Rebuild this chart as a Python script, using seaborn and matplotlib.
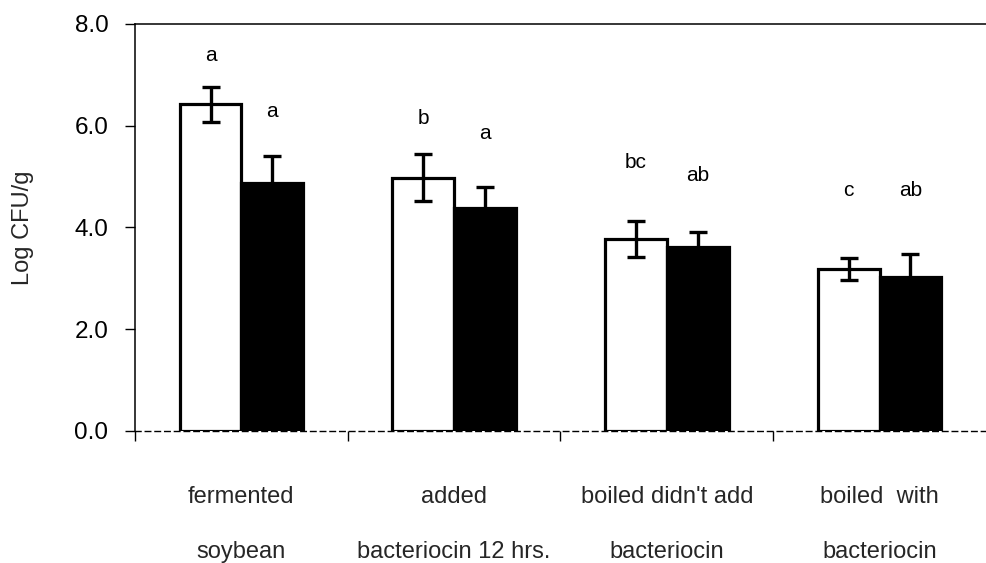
import matplotlib
matplotlib.use("Agg")
import matplotlib.pyplot as plt
import matplotlib.transforms as mtransforms
import numpy as np
import pandas as pd
import seaborn as sns

# Treatment groups (two lines of label text each)
groups = [
    "fermented\nsoybean",
    "added\nbacteriocin 12 hrs.",
    "boiled didn't add\nbacteriocin",
    "boiled  with\nbacteriocin",
]
samples = ["sample A", "sample B"]

# Mean log counts and standard errors
mean_a = [6.42, 4.98, 3.77, 3.18]
se_a = [0.34, 0.46, 0.35, 0.22]
mean_b = [4.88, 4.39, 3.61, 3.02]
se_b = [0.52, 0.41, 0.31, 0.46]

# Significance letters and the heights they are written at
letters_a = ["a", "b", "bc", "c"]
letters_b = ["a", "a", "ab", "ab"]
letter_y_a = [7.39, 6.15, 5.27, 4.72]
letter_y_b = [6.27, 5.85, 5.03, 4.72]

y_ticks = [0.0, 2.0, 4.0, 6.0, 8.0]

sns.set_style("ticks")
plt.rcParams["font.family"] = ["Liberation Sans", "DejaVu Sans"]

df = pd.DataFrame({
    "group": groups * 2,
    "sample": [samples[0]] * 4 + [samples[1]] * 4,
    "count": mean_a + mean_b,
})

fig = plt.figure(figsize=(9.86, 5.63), dpi=100)
ax = fig.add_axes([0.1369, 0.2345, 0.8631, 0.7229])

sns.barplot(
    data=df, x="group", y="count", hue="sample", order=groups,
    hue_order=samples, palette=["white", "black"], edgecolor="black",
    linewidth=2.3, width=0.58, errorbar=None, legend=False, ax=ax,
    saturation=1,
)

# Error bars on top of each bar
for cont, means, ses in zip(ax.containers, [mean_a, mean_b], [se_a, se_b]):
    xs = [p.get_x() + p.get_width() / 2 for p in cont.patches]
    ax.errorbar(xs, means, yerr=ses, fmt="none", ecolor="black",
                elinewidth=2.4, capsize=6.5, capthick=2.4, zorder=5)

# Letters above the bars
for cont, labs, ys in zip(ax.containers, [letters_a, letters_b],
                          [letter_y_a, letter_y_b]):
    for p, lab, yv in zip(cont.patches, labs, ys):
        ax.text(p.get_x() + p.get_width() / 2, yv, lab, ha="center",
                va="center", fontsize=15, color="black")

ax.set_xlim(-0.5, 3.5)
ax.set_ylim(0, 8)
ax.set_yticks(y_ticks)
ax.set_yticklabels([f"{v:.1f}" for v in y_ticks], fontsize=17.5)
ax.set_xticks([-0.5, 0.5, 1.5, 2.5])
ax.set_xticklabels([])
ax.set_xlabel("")
ax.set_ylabel("Log CFU/g", fontsize=17, labelpad=29)

ax.tick_params(axis="y", direction="out", length=7.2, width=1.0, pad=12,
               colors="black")
ax.tick_params(axis="x", direction="out", length=7.2, width=1.0,
               colors="black")

for side in ["top", "left"]:
    ax.spines[side].set_visible(True)
    ax.spines[side].set_linewidth(1.1)
    ax.spines[side].set_color("black")
ax.spines["right"].set_visible(False)
ax.spines["bottom"].set_linewidth(1.0)
ax.spines["bottom"].set_linestyle((0, (4, 3)))
ax.spines["bottom"].set_color("black")

# Two-line category labels under the axis
trans = mtransforms.blended_transform_factory(ax.transData, ax.transAxes)
for i, g in enumerate(groups):
    first, second = g.split("\n")
    ax.text(i, -0.177, first, transform=trans, ha="center", va="baseline",
            fontsize=17)
    ax.text(i, -0.312, second, transform=trans, ha="center", va="baseline",
            fontsize=17)

fig.savefig("out.png", dpi=100)
